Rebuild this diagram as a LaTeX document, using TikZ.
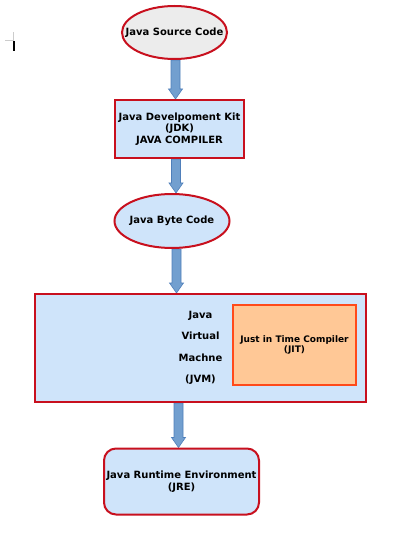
\documentclass[tikz,border=0pt]{standalone}
\usepackage{fontspec}
\setmainfont{DejaVu Sans}
\usetikzlibrary{shapes.geometric,calc,backgrounds}
\definecolor{bordred}{HTML}{C8101E}
\definecolor{skyfill}{HTML}{CFE4FA}
\definecolor{grayfill}{HTML}{ECECEC}
\definecolor{jitfill}{HTML}{FFC896}
\definecolor{jitborder}{HTML}{FF4A1A}
\definecolor{arrfill}{HTML}{729FCF}
\definecolor{arrdraw}{HTML}{4F7FBA}
\tikzset{
  txt/.style={font=\fontsize{10bp}{12bp}\selectfont\bfseries, text=black, align=center, inner sep=0pt},
  oval/.style={ellipse, draw=bordred, line width=2bp, inner sep=0pt, txt},
  sbox/.style={rectangle, draw=bordred, line width=2bp, fill=skyfill, inner sep=0pt, txt},
  blk/.style={fill=arrfill, draw=arrdraw, line width=0.6bp, line join=miter},
}
\newcommand\blockarrow[3]{%
  \path[blk] let \p1=(#1.south), \p2=(#2.north), \p3=(#3) in
    (\x3-4.5bp,\y1) -- (\x3-4.5bp,\y2+10bp) -- (\x3-7bp,\y2+10bp) -- (\x3,\y2)
    -- (\x3+7bp,\y2+10bp) -- (\x3+4.5bp,\y2+10bp) -- (\x3+4.5bp,\y1) -- cycle;}
\begin{document}
\begin{tikzpicture}[x=1bp,y=-1bp]
\useasboundingbox (0,0) rectangle (407,539);
% text cursor marks
\draw[gray!40, line width=0.8bp] (5,40.5) -- (13,40.5) -- (13,32);
\draw[black, line width=1.3bp] (14,41) -- (14,51.5);
% nodes
\node[oval, fill=grayfill, minimum width=105bp, minimum height=53bp, inner xsep=-14bp] (src) at (174.5,32.5) {Java Source Code};
\node[sbox, minimum width=129bp, minimum height=58bp] (jdk) at (179.5,129)
  {Java Develpoment Kit\\[-0.5bp](JDK)\\[-0.5bp]JAVA COMPILER};
\node[oval, fill=skyfill, minimum width=115bp, minimum height=54bp, inner xsep=-10bp] (byte) at (172,221) {Java Byte Code};
\node[sbox, minimum width=331bp, minimum height=108bp, font=\fontsize{10bp}{21.5bp}\selectfont\bfseries] (jvm) at (200.5,348)
  {Java\\Virtual\\Machne\\(JVM)};
\node[rectangle, draw=jitborder, line width=2bp, fill=jitfill, minimum width=123bp, minimum height=80bp,
  txt, font=\fontsize{9bp}{10.5bp}\selectfont\bfseries] (jit) at (294.5,345)
  {Just in Time Compiler\\(JIT)};
\node[sbox, rounded corners=12bp, minimum width=155bp, minimum height=66bp] (jre) at (181.5,481.5)
  {Java Runtime Environment\\(JRE)};
% arrow x positions
\coordinate (ax1) at (175.5,0);
\coordinate (ax2) at (176,0);
\coordinate (ax3) at (176.5,0);
\coordinate (ax4) at (178.5,0);
\begin{scope}[on background layer]
\blockarrow{src}{jdk}{ax1}
\blockarrow{jdk}{byte}{ax2}
\blockarrow{byte}{jvm}{ax3}
\blockarrow{jvm}{jre}{ax4}
\end{scope}
\end{tikzpicture}
\end{document}
